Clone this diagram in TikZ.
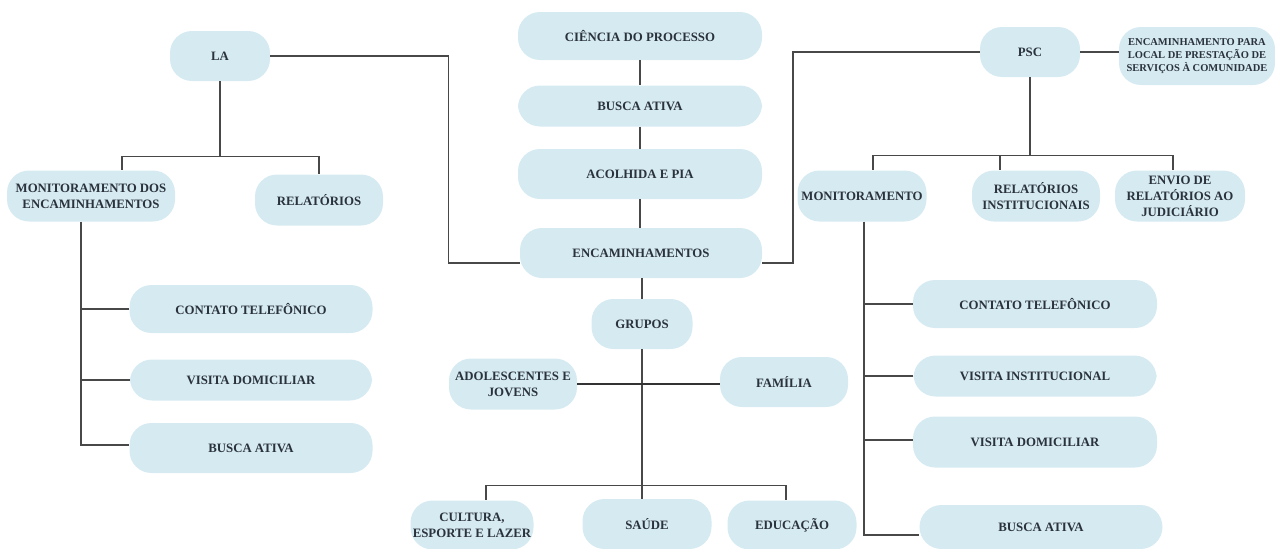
\documentclass[tikz,border=0pt]{standalone}
\usepackage{fontspec}
\setmainfont{Liberation Serif}
\usepackage{tikz}
\definecolor{azul}{RGB}{214,234,242}
\definecolor{texto}{RGB}{42,50,60}
\definecolor{linha}{RGB}{72,72,72}

\begin{document}
\begin{tikzpicture}[x=1pt,y=-1pt,
  caixa/.style={rectangle,rounded corners=22pt,fill=azul,align=center,inner sep=0pt,
    text=texto,font=\bfseries\fontsize{12.8}{16}\selectfont},
  liga/.style={draw=linha,line width=1.4pt}]
\useasboundingbox (0,0) rectangle (1275,549);
% coluna central
\node[caixa,minimum width=244pt,minimum height=48pt](cien) at (640,36){CIÊNCIA DO PROCESSO};
\node[caixa,minimum width=244pt,minimum height=41pt](busca) at (640,106){BUSCA ATIVA};
\node[caixa,minimum width=244pt,minimum height=50pt](acol) at (640,174){ACOLHIDA E PIA};
\node[caixa,minimum width=242pt,minimum height=50pt](enc) at (641,253){ENCAMINHAMENTOS};
\node[caixa,minimum width=101pt,minimum height=50pt](grup) at (642,324){GRUPOS};
\node[caixa,minimum width=128pt,minimum height=51pt](adol) at (513,384){ADOLESCENTES E\\JOVENS};
\node[caixa,minimum width=128pt,minimum height=50pt](fam) at (784,382){FAMÍLIA};
\node[caixa,minimum width=123pt,minimum height=49pt](cult) at (472,525){CULTURA,\\ESPORTE E LAZER};
\node[caixa,minimum width=129pt,minimum height=50pt](saude) at (647,524){SAÚDE};
\node[caixa,minimum width=129pt,minimum height=49pt](edu) at (792,525){EDUCAÇÃO};
% LA
\node[caixa,minimum width=100pt,minimum height=50pt](la) at (220,56){LA};
\node[caixa,minimum width=168pt,minimum height=51pt](monla) at (91,196){MONITORAMENTO DOS\\ENCAMINHAMENTOS};
\node[caixa,minimum width=128pt,minimum height=51pt](rella) at (319,200){RELATÓRIOS};
\node[caixa,minimum width=243pt,minimum height=48pt](tella) at (251,309){CONTATO TELEFÔNICO};
\node[caixa,minimum width=242pt,minimum height=41pt](visla) at (251,380){VISITA DOMICILIAR};
\node[caixa,minimum width=243pt,minimum height=50pt](busla) at (251,448){BUSCA ATIVA};
% PSC
\node[caixa,minimum width=100pt,minimum height=50pt](psc) at (1030,52){PSC};
\node[caixa,minimum width=156pt,minimum height=58pt,font=\bfseries\fontsize{10.5}{13}\selectfont](encpsc) at (1197,56)
	{ENCAMINHAMENTO PARA\\LOCAL DE PRESTAÇÃO DE\\SERVIÇOS À COMUNIDADE};
\node[caixa,minimum width=129pt,minimum height=51pt](monpsc) at (862,196){MONITORAMENTO};
\node[caixa,minimum width=128pt,minimum height=51pt](relpsc) at (1036,196){RELATÓRIOS\\INSTITUCIONAIS};
\node[caixa,minimum width=130pt,minimum height=51pt](envio) at (1180,196){ENVIO DE\\RELATÓRIOS AO\\JUDICIÁRIO};
\node[caixa,minimum width=244pt,minimum height=48pt](telpsc) at (1035,304){CONTATO TELEFÔNICO};
\node[caixa,minimum width=243pt,minimum height=41pt](vinst) at (1035,376){VISITA INSTITUCIONAL};
\node[caixa,minimum width=244pt,minimum height=51pt](vdom) at (1035,442){VISITA DOMICILIAR};
\node[caixa,minimum width=243pt,minimum height=44pt](bpsc) at (1041,527){BUSCA ATIVA};
% ligacoes centrais
\draw[liga] (cien) -- (busca);
\draw[liga] (busca) -- (acol);
\draw[liga] (acol.south) -- (acol.south |- enc.north);
\draw[liga] (grup.north) -- (grup.north |- enc.south);
\draw[liga] (grup.south) -- ++(0,136) coordinate (gb);
\draw[draw=black!80,line width=2.6pt] (adol.east) -- (adol.east -| fam.west);
\draw[liga] (gb) -| ([xshift=14pt]cult.north);
\draw[liga] (gb) -| ([xshift=-5pt]saude.north);
\draw[liga] (gb) -| ([xshift=-6pt]edu.north);
% ligacoes LA
\draw[liga] (la.east) -- ++(178,0) |- ([yshift=-10pt]enc.west);
\draw[liga] (la.south) -- ++(0,75) coordinate (lab);
\draw[liga] (lab) -| ([xshift=31pt]monla.north);
\draw[liga] (lab) -| (rella.north);
\coordinate (lam) at ([xshift=-10pt]monla.south);
\draw[liga] (lam) |- ([yshift=3pt]busla.west);
\draw[liga] (tella.west) -- (tella.west -| lam);
\draw[liga] (visla.west) -- (visla.west -| lam);
% ligacoes PSC
\draw[liga] (psc.west) -- ++(-187,0) |- ([yshift=-10pt]enc.east);
\draw[liga] (psc.east) -- (psc.east -| encpsc.west);
\draw[liga] (psc.south) -- ++(0,78) coordinate (pb);
\draw[liga] (pb) -| ([xshift=11pt]monpsc.north);
\draw[liga] (pb) -| ([xshift=-36pt]relpsc.north);
\draw[liga] (pb) -| ([xshift=-7pt]envio.north);
\coordinate (pm) at ([xshift=2pt]monpsc.south);
\draw[liga] (pm) |- ([yshift=-8pt]bpsc.west);
\draw[liga] (telpsc.west) -- (telpsc.west -| pm);
\draw[liga] (vinst.west) -- (vinst.west -| pm);
\draw[liga] ([yshift=2pt]vdom.west) -- ([yshift=2pt]vdom.west -| pm);
\end{tikzpicture}
\end{document}
